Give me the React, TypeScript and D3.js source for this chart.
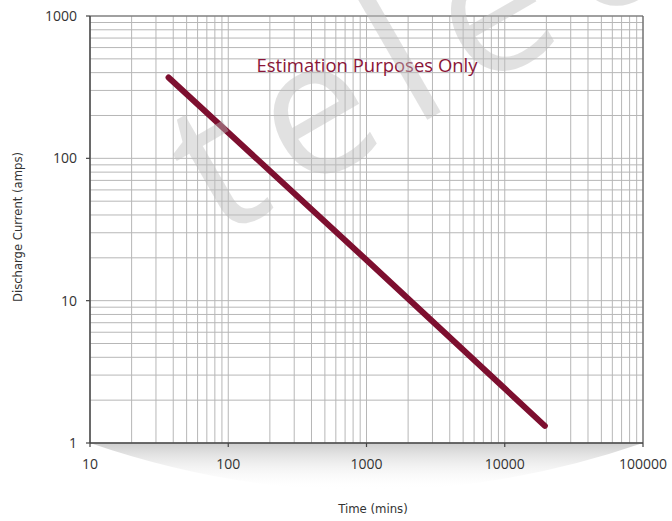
import React from "react";
import * as d3 from "d3";

const timeMins = [37, 1000, 19500];
const currentAmps = [370, 19.3, 1.32];
const xTicks = [10, 100, 1000, 10000, 100000];
const yTicks = [1, 10, 100, 1000];
const minorMultipliers = [2, 3, 4, 5, 6, 7, 8, 9];
const titleText = "Estimation Purposes Only";
const xTitle = "Time (mins)";
const yTitle = "Discharge Current (amps)";
const watermarkText = "telec";

const W = 672;
const H = 521;
const M = { left: 90, right: 643, top: 16, bottom: 443 };

export default function App() {
  const x = d3.scaleLog().domain([10, 100000]).range([M.left, M.right]);
  const y = d3.scaleLog().domain([1, 1000]).range([M.bottom, M.top]);

  const xMinor: number[] = [];
  for (let i = 0; i < xTicks.length - 1; i++)
    minorMultipliers.forEach((m) => xMinor.push(xTicks[i] * m));
  const yMinor: number[] = [];
  for (let i = 0; i < yTicks.length - 1; i++)
    minorMultipliers.forEach((m) => yMinor.push(yTicks[i] * m));

  const line = d3
    .line<number>()
    .x((_, i) => x(timeMins[i]))
    .y((d) => y(d));

  const grid = "#b7b7b7";
  const font = "'Open Sans', sans-serif";
  const xMid = (M.left + M.right) / 2;

  return (
    <svg
      width={W}
      height={H}
      style={{ position: "absolute", left: 0, top: 0, background: "#fff" }}
    >
      <defs>
        <linearGradient id="shadow" x1="0" y1="0" x2="0" y2="1">
          <stop offset="0%" stopColor="#cdcdcd" />
          <stop offset="100%" stopColor="#ffffff" stopOpacity="0" />
        </linearGradient>
      </defs>
      <rect width={W} height={H} fill="#fff" />
      {/* shadow below x axis */}
      <path
        d={`M${M.left},${M.bottom} Q${xMid},${M.bottom + 95} ${M.right},${M.bottom} Z`}
        fill="url(#shadow)"
      />
      {/* gridlines */}
      {xMinor.map((v) => (
        <line key={"xm" + v} x1={x(v)} x2={x(v)} y1={M.top} y2={M.bottom} stroke={grid} strokeWidth={1} />
      ))}
      {yMinor.map((v) => (
        <line key={"ym" + v} x1={M.left} x2={M.right} y1={y(v)} y2={y(v)} stroke={grid} strokeWidth={1} />
      ))}
      {xTicks.map((v) => (
        <line key={"xg" + v} x1={x(v)} x2={x(v)} y1={M.top} y2={M.bottom} stroke={grid} strokeWidth={1} />
      ))}
      {yTicks.map((v) => (
        <line key={"yg" + v} x1={M.left} x2={M.right} y1={y(v)} y2={y(v)} stroke={grid} strokeWidth={1} />
      ))}
      {/* frame */}
      <line x1={M.left} x2={M.right} y1={M.top} y2={M.top} stroke="#666" strokeWidth={1.2} />
      <line x1={M.right} x2={M.right} y1={M.top} y2={M.bottom} stroke="#666" strokeWidth={1.2} />
      <line x1={M.left} x2={M.left} y1={M.top} y2={M.bottom} stroke="#444" strokeWidth={1.5} />
      <line x1={M.left} x2={M.right} y1={M.bottom} y2={M.bottom} stroke="#444" strokeWidth={1.5} />
      {/* ticks */}
      {yTicks.map((v) => (
        <g key={"yt" + v}>
          <line x1={M.left - 4} x2={M.left} y1={y(v)} y2={y(v)} stroke="#444" strokeWidth={1.2} />
          <text x={77} y={y(v)} dy="0.36em" textAnchor="end" fontFamily={font} fontSize={14} fill="#333">
            {v}
          </text>
        </g>
      ))}
      {xTicks.map((v) => (
        <g key={"xt" + v}>
          <line x1={x(v)} x2={x(v)} y1={M.bottom} y2={M.bottom + 4} stroke="#444" strokeWidth={1.2} />
          <text x={x(v)} y={469} textAnchor="middle" fontFamily={font} fontSize={14} fill="#333">
            {v}
          </text>
        </g>
      ))}
      {/* title */}
      <text
        x={256.5}
        y={71.5}
        fontFamily={font}
        fontSize={18.5}
        fill="#8a1538"
        textLength={221}
        lengthAdjust="spacingAndGlyphs"
      >
        {titleText}
      </text>
      {/* data line */}
      <path
        d={line(currentAmps) || ""}
        fill="none"
        stroke="#7d0f2f"
        strokeWidth={6}
        strokeLinecap="round"
      />
      {/* watermark */}
      <text
        transform="translate(219,240) rotate(-30)"
        fontFamily={font}
        fontSize={190}
        letterSpacing={25}
        fill="#bdbdbd"
        fillOpacity={0.45}
      >
        {watermarkText}
      </text>
      {/* axis titles */}
      <text
        x={373}
        y={513}
        textAnchor="middle"
        fontFamily="'Liberation Sans Narrow', 'DejaVu Sans Condensed', sans-serif"
        fontSize={13}
        fill="#333"
      >
        {xTitle}
      </text>
      <text
        transform={`translate(22,227) rotate(-90)`}
        textAnchor="middle"
        fontFamily="'Liberation Sans Narrow', 'DejaVu Sans Condensed', sans-serif"
        fontSize={13}
        fill="#333"
        textLength={150}
        lengthAdjust="spacingAndGlyphs"
      >
        {yTitle}
      </text>
    </svg>
  );
}
